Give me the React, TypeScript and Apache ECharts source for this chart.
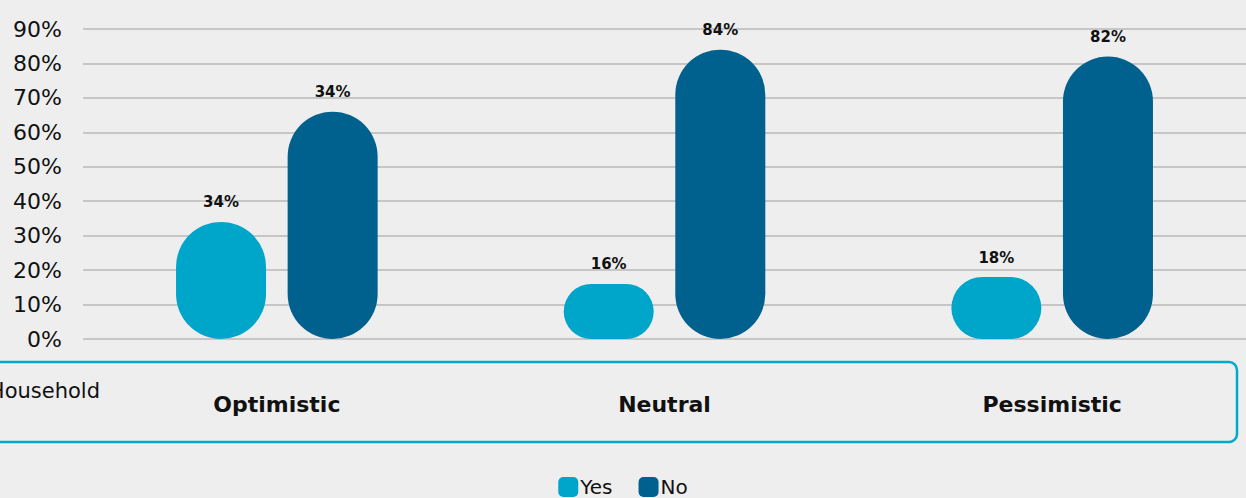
import React, { useEffect, useRef } from "react";
import * as echarts from "echarts";

const categories = ["Optimistic", "Neutral", "Pessimistic"];
const yesValues = [34, 16, 18];
const noValues = [66, 84, 82];
const yesLabels = ["34%", "16%", "18%"];
const noLabels = ["34%", "84%", "82%"];
const seriesNames = ["Yes", "No"];
const rowLabel = "Household";

const FONT = "'DejaVu Sans', sans-serif";

export default function App() {
  const ref = useRef<HTMLDivElement>(null);
  useEffect(() => {
    if (!ref.current) return;
    const chart = echarts.init(ref.current, undefined, { renderer: "svg" });
    chart.setOption({
      animation: false,
      backgroundColor: "#eeeeee",
      textStyle: { fontFamily: FONT },
      graphic: [
        {
          type: "rect",
          shape: { x: -12, y: 362, width: 1249, height: 80, r: 8 },
          style: { fill: "none", stroke: "#00a9cd", lineWidth: 2.5 },
          z: 0,
        },
        {
          type: "text",
          x: 100,
          y: 391,
          style: {
            text: rowLabel,
            align: "right",
            verticalAlign: "middle",
            font: `400 21px ${FONT}`,
            fill: "#111111",
          },
        },
      ],
      legend: {
        bottom: -4,
        left: "center",
        icon: "roundRect",
        itemWidth: 20,
        itemHeight: 20,
        itemGap: 26,
        textStyle: { fontSize: 20, fontWeight: 400, color: "#111111", fontFamily: FONT, padding: [0, 0, 0, -3] },
        data: seriesNames,
      },
      grid: { left: 83, right: -4, top: 29, bottom: 159, containLabel: false },
      xAxis: {
        type: "category",
        data: categories,
        axisLine: { show: false },
        axisTick: { show: false },
        axisLabel: {
          margin: 54,
          fontSize: 22,
          fontWeight: 600,
          color: "#111111",
          fontFamily: FONT,
        },
      },
      yAxis: {
        type: "value",
        min: 0,
        max: 90,
        interval: 10,
        axisLabel: {
          formatter: "{value}%",
          fontSize: 22,
          fontWeight: 400,
          color: "#111111",
          margin: 21,
          fontFamily: FONT,
        },
        splitLine: { lineStyle: { color: "#b9b9b9", width: 1.5 } },
      },
      series: [
        {
          name: seriesNames[0],
          type: "bar",
          data: yesValues,
          barWidth: 90,
          barGap: "24%",
          itemStyle: { color: "#00a5ca", borderRadius: 45 },
          label: {
            show: true,
            position: "top",
            distance: 12,
            formatter: (p: any) => yesLabels[p.dataIndex],
            fontSize: 15,
            fontWeight: 700,
            color: "#111111",
            fontFamily: FONT,
          },
        },
        {
          name: seriesNames[1],
          type: "bar",
          data: noValues,
          barWidth: 90,
          barGap: "24%",
          itemStyle: { color: "#00608e", borderRadius: 45 },
          label: {
            show: true,
            position: "top",
            distance: 12,
            formatter: (p: any) => noLabels[p.dataIndex],
            fontSize: 15,
            fontWeight: 700,
            color: "#111111",
            fontFamily: FONT,
          },
        },
      ],
    });
    return () => chart.dispose();
  }, []);
  return (
    <div
      ref={ref}
      style={{ position: "fixed", left: 0, top: 0, width: 1246, height: 498 }}
    />
  );
}
